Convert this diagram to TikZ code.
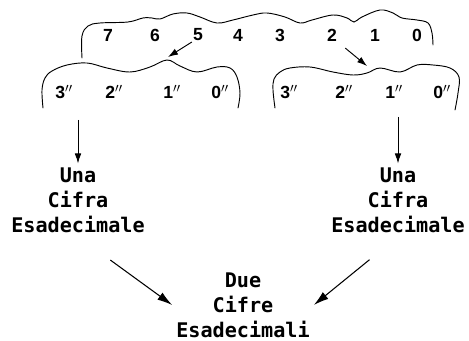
\documentclass[tikz,border=0pt]{standalone}
\usepackage{fontspec}
\usepackage{tikz}
\usetikzlibrary{arrows.meta}
\newfontfamily\digitfont{Liberation Sans}
\newfontfamily\dotfont{DejaVu Sans Mono}
\tikzset{
  digit/.style={inner sep=0pt, font=\digitfont\bfseries\fontsize{15}{17}\selectfont},
  word/.style={align=center, font=\dotfont\bfseries\fontsize{17.2}{21.25}\selectfont},
  brace/.style={line width=0.8pt, line cap=round},
  arr/.style={line width=0.8pt, -{Latex[length=3mm,width=2mm]}},
  bigarr/.style={line width=0.9pt, -{Latex[length=4.5mm,width=2.6mm]}}
}
\begin{document}
\begin{tikzpicture}[x=0.03cm, y=-0.03cm]
			%%%%% START %%%%%
			\useasboundingbox (0, 0) rectangle (469, 341);
			
			% byte bracket
			\draw[brace] plot[smooth, tension=0.6] coordinates {(82, 58) (82, 36) (88, 26) (100, 23) (128, 22) (143, 18) (152, 18) (160, 19) (173, 14) (187, 13) (200, 17) (217, 23) (233, 20) (253, 15) (267, 13) (285, 17) (300, 23) (312, 20) (333, 15) (347, 18) (354, 22) (362, 17) (380, 10) (393, 13) (402, 18) (417, 20) (428, 23) (432, 33) (433, 45)};
			
			\node[digit] (t7) at (108, 35) {7};
			\node[digit] (t6) at (155, 35) {6};
			\node[digit] (t5) at (198, 35) {5};
			\node[digit] (t4) at (238, 35) {4};
			\node[digit] (t3) at (280, 35) {3};
			\node[digit] (t2) at (332, 35) {2};
			\node[digit] (t1) at (375, 35) {1};
			\node[digit] (t0) at (417, 35) {0};
			
			% left nibble
			\draw[brace] plot[smooth, tension=0.6] coordinates {(43, 108) (42, 90) (45, 78) (52, 71) (67, 65) (87, 63) (107, 68) (130, 72) (150, 67) (167, 60) (180, 66) (197, 72) (217, 67) (230, 68) (237, 77) (240, 93) (238, 108)};
			\coordinate (ldip) at (168, 57);
			
			\node[digit] (l3) at (64, 92) {3$''$};
			\node[digit] (l2) at (114, 92) {2$''$};
			\node[digit] (l1) at (172, 92) {1$''$};
			\node[digit] (l0) at (220, 92) {0$''$};
			
			% right nibble
			\draw[brace] plot[smooth, tension=0.6] coordinates {(275, 108) (273, 90) (274, 79) (280, 72) (290, 68) (310, 67) (333, 72) (353, 75) (367, 73) (380, 68) (400, 72) (417, 65) (433, 65) (450, 68) (459, 77) (458, 93) (455, 110)};
			\coordinate (rdip) at (367, 66);
			
			\node[digit] (r3) at (289, 92) {3$''$};
			\node[digit] (r2) at (344, 92) {2$''$};
			\node[digit] (r1) at (394, 92) {1$''$};
			\node[digit] (r0) at (442, 92) {0$''$};
			
			\draw[arr, shorten <=1pt] (t5.south west) -- (ldip);
			\draw[arr, shorten <=9pt] (t2.south east) -- (rdip);
			
			% words
			\node[word] (luna) at (78, 200) {Una\\Cifra\\Esadecimale};
			\node[word] (runa) at (398, 200) {Una\\Cifra\\Esadecimale};
			\node[word] (due) at (243, 305) {Due\\Cifre\\Esadecimali};
			
			\coordinate (lbot) at (78, 120);
			\coordinate (rbot) at (398, 117);
			\draw[arr] (lbot) -- (luna.north);
			\draw[arr] (rbot) -- (runa.north);
			
			\draw[bigarr, shorten <=1.2cm] (luna.south) -- (due.west);
			\draw[bigarr, shorten <=1.1cm] (runa.south) -- (due.east);
			%%%%% END %%%%%
\end{tikzpicture}
\end{document}
